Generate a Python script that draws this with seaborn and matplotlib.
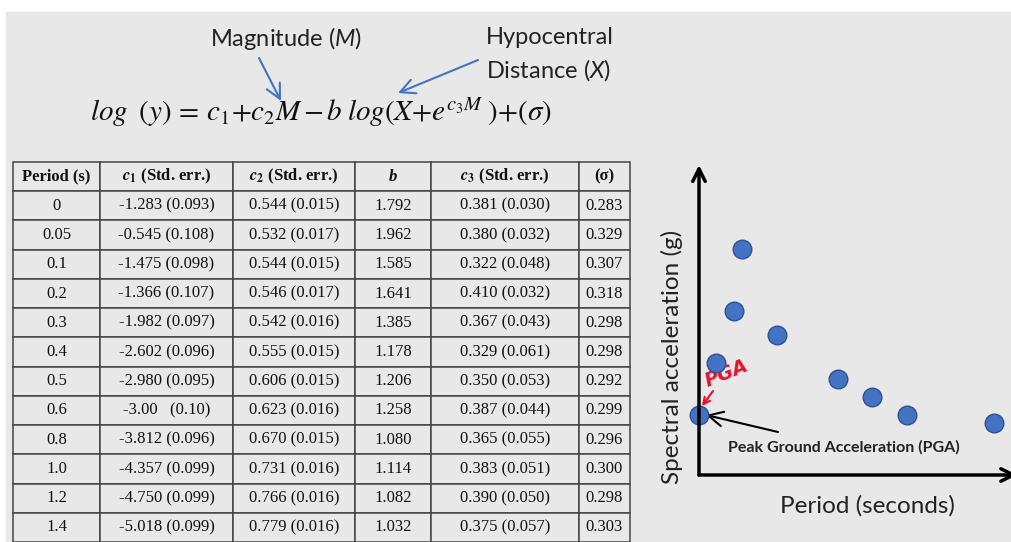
import numpy as np
import seaborn as sns
import matplotlib.pyplot as plt
from matplotlib.patches import Rectangle

# coefficient table (as printed on the slide)
periods = ["0", "0.05", "0.1", "0.2", "0.3", "0.4", "0.5", "0.6", "0.8", "1.0", "1.2", "1.4"]
c1 = ["-1.283 (0.093)", "-0.545 (0.108)", "-1.475 (0.098)", "-1.366 (0.107)", "-1.982 (0.097)",
      "-2.602 (0.096)", "-2.980 (0.095)", "-3.00   (0.10)", "-3.812 (0.096)", "-4.357 (0.099)",
      "-4.750 (0.099)", "-5.018 (0.099)"]
c2 = ["0.544 (0.015)", "0.532 (0.017)", "0.544 (0.015)", "0.546 (0.017)", "0.542 (0.016)",
      "0.555 (0.015)", "0.606 (0.015)", "0.623 (0.016)", "0.670 (0.015)", "0.731 (0.016)",
      "0.766 (0.016)", "0.779 (0.016)"]
b = ["1.792", "1.962", "1.585", "1.641", "1.385", "1.178", "1.206", "1.258", "1.080",
     "1.114", "1.082", "1.032"]
c3 = ["0.381 (0.030)", "0.380 (0.032)", "0.322 (0.048)", "0.410 (0.032)", "0.367 (0.043)",
      "0.329 (0.061)", "0.350 (0.053)", "0.387 (0.044)", "0.365 (0.055)", "0.383 (0.051)",
      "0.390 (0.050)", "0.375 (0.057)"]
sigma = ["0.283", "0.329", "0.307", "0.318", "0.298", "0.298", "0.292", "0.299", "0.296",
         "0.300", "0.298", "0.303"]
headers = ["Period (s)", r"$\mathbfit{c}_\mathbf{1}$ (Std. err.)", r"$\mathbfit{c}_\mathbf{2}$ (Std. err.)",
           "b", r"$\mathbfit{c}_\mathbf{3}$ (Std. err.)", "(σ)"]

# sketch of the response spectrum
period_s = [0, 0.10, 0.20, 0.25, 0.45, 0.80, 1.00, 1.20, 1.70]
sa_g = [0.30, 0.56, 0.82, 1.13, 0.70, 0.48, 0.39, 0.30, 0.26]

sns.set_theme(style="white")
plt.rcParams["mathtext.fontset"] = "custom"
plt.rcParams["mathtext.rm"] = "Lato"
plt.rcParams["mathtext.it"] = "Lato:italic"
plt.rcParams["mathtext.bf"] = "Lato:bold"

W, H = 1011, 542
BG = "#e8e8e8"
BLUE = "#4472C4"
fig = plt.figure(figsize=(W / 100, H / 100), dpi=100)
fig.patch.set_facecolor("white")

# slide layer in pixel coordinates
bg = fig.add_axes([0, 0, 1, 1])
bg.set_xlim(0, W)
bg.set_ylim(H, 0)
bg.axis("off")
bg.add_patch(Rectangle((6, 12), W - 6, H - 12, color=BG, zorder=0))

# equation + labels
bg.text(286, 38, "Magnitude ($M$)", ha="center", va="center", family="Lato", fontsize=17, color="#222")
bg.text(486, 38, "Hypocentral", ha="left", va="center", family="Lato", fontsize=17, color="#222")
bg.text(486, 70, "Distance ($X$)", ha="left", va="center", family="Lato", fontsize=17, color="#222")
eq = r"$log\;\;(y)\,{=}\,c_1{+}c_2M\,{-}\,b\;log(X{+}e^{c_3M}\;){+}(\sigma)$"
bg.text(90, 112, eq, ha="left", va="center", fontsize=21, math_fontfamily="stix", color="#111")

arr = dict(arrowstyle="->,head_length=0.7,head_width=0.35", color=BLUE, lw=1.5,
           shrinkA=0, shrinkB=0, mutation_scale=15)
bg.annotate("", xy=(281, 101), xytext=(259, 58), arrowprops=arr)
bg.annotate("", xy=(398, 93), xytext=(478, 60), arrowprops=arr)

# table
cell_text = [list(r) for r in zip(periods, c1, c2, b, c3, sigma)]
col_w = np.diff([13, 100, 233, 355, 431, 579, 630]).astype(float)
tab = bg.table(cellText=cell_text, colLabels=headers, colWidths=list(col_w / col_w.sum()),
               cellLoc="center", bbox=[13 / W, 0, 617 / W, 380 / H])
tab.auto_set_font_size(False)
for (r, c), cell in tab.get_celld().items():
    cell.set_edgecolor("#444444")
    cell.set_facecolor(BG)
    cell.set_linewidth(1.1)
    t = cell.get_text()
    t.set_fontfamily("Liberation Serif")
    t.set_fontsize(12)
    t.set_color("#111")
    t.set_math_fontfamily("stix")
    if r == 0:
        t.set_fontweight("bold")
        if c == 3:
            t.set_fontstyle("italic")

# spectrum sketch
ax = fig.add_axes([699 / W, (H - 475) / H, (W - 699) / W, (475 - 165) / H])
ax.patch.set_alpha(0)
sns.scatterplot(x=period_s, y=sa_g, ax=ax, s=180, color=BLUE, edgecolor="#2F528F",
                linewidth=1, clip_on=False, zorder=3)
ax.set_xlim(0, 1.8)
ax.set_ylim(0, 1.55)
ax.set_xticks([])
ax.set_yticks([])
for sp in ax.spines.values():
    sp.set_visible(False)
ax_arr = dict(arrowstyle="->,head_length=0.6,head_width=0.3", color="black", lw=2.5,
              shrinkA=0, shrinkB=0, mutation_scale=15)
ax.annotate("", xy=(0, 1), xytext=(0, 0), xycoords="axes fraction", arrowprops=ax_arr)
ax.annotate("", xy=(1.02, 0), xytext=(0, 0), xycoords="axes fraction", arrowprops=ax_arr,
            annotation_clip=False)

bg.text(672, 357, "Spectral acceleration (g)", rotation=90, ha="center", va="center",
        family="Lato", fontsize=17.5, color="#222")
bg.text(867, 506, "Period (seconds)", ha="center", va="center", family="Lato", fontsize=17.5,
        color="#222")
bg.text(844, 447, "Peak Ground Acceleration (PGA)", ha="center", va="center", family="Lato",
        fontweight="bold", fontsize=11.5, color="#222")
bg.annotate("", xy=(706, 415), xytext=(778, 432),
            arrowprops=dict(arrowstyle="->,head_length=0.7,head_width=0.35", color="black",
                            lw=1.5, shrinkA=0, shrinkB=0, mutation_scale=15))

# handwritten PGA note
bg.text(727, 373, "PGA", rotation=22, ha="center", va="center", color="#e8102a",
        fontsize=14, fontweight="bold", fontstyle="italic", family="DejaVu Sans")
bg.annotate("", xy=(702, 406), xytext=(713, 391),
            arrowprops=dict(arrowstyle="->", color="#e8102a", lw=1.5, shrinkA=0, shrinkB=0))

fig.savefig("out.png", dpi=100)
